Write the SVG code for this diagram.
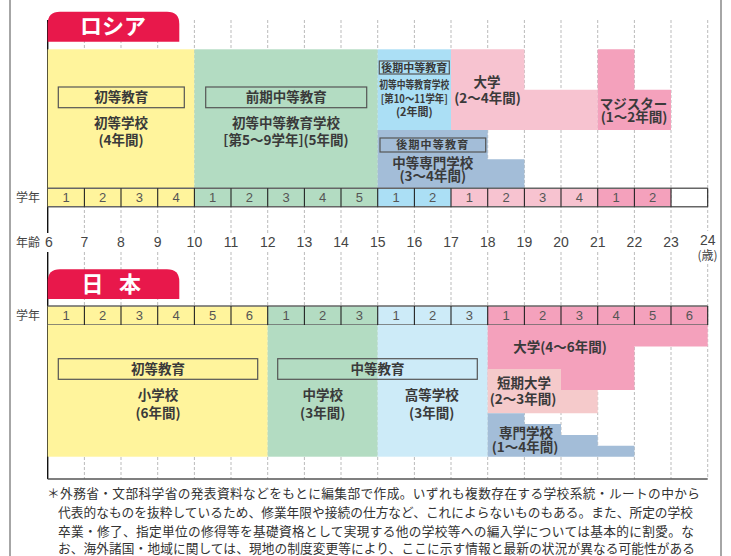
<svg xmlns="http://www.w3.org/2000/svg" width="731" height="556" viewBox="0 0 731 556">
<style>
.lab{font-family:"Noto Sans CJK JP",sans-serif;font-size:13.5px;font-weight:bold;fill:#3a3a3a;text-anchor:middle}
.sm{font-family:"Noto Sans CJK JP",sans-serif;font-size:11px;font-weight:bold;fill:#3a3a3a;text-anchor:middle}
.num{font-family:"Liberation Sans",sans-serif;font-size:13px;fill:#555;text-anchor:middle}
.age{font-family:"Liberation Sans",sans-serif;font-size:14px;fill:#444;text-anchor:middle}
.side{font-family:"Noto Sans CJK JP",sans-serif;font-size:12px;fill:#444}
.tab{fill:#e8184b}
.tabt{font-family:"Noto Sans CJK JP",sans-serif;font-size:22px;font-weight:bold;fill:#fff;text-anchor:middle}
.box{fill:none;stroke:#555;stroke-width:1.2}
.dash{stroke:#aaa;stroke-width:0.8;stroke-dasharray:3 2}
.cell{stroke:#222;stroke-width:1.1}
.rowb{stroke:#666;stroke-width:1.6}
.y{fill:#fff49c}.g{fill:#b3dcc2}.rb{fill:#abdff5}.jb{fill:#cdebf8}
.pl{fill:#f7c3d0}.pd{fill:#f4a1bc}.gb{fill:#a3bdd8}.tk{fill:#f5cacb}
.foot{font-family:"Noto Sans CJK JP",sans-serif;font-size:12.7px;fill:#333}
</style>
<rect width="731" height="556" fill="#fff"/>
<!-- frame -->
<line x1="10" y1="0" x2="10" y2="556" stroke="#888" stroke-width="1.5"/>
<line x1="721" y1="0" x2="721" y2="556" stroke="#888" stroke-width="1.5"/>

<!-- grid lines -->
<g id="grid">
<g class="dash">
<line x1="84.4" y1="20" x2="84.4" y2="233"/><line x1="84.4" y1="252" x2="84.4" y2="479"/>
<line x1="121" y1="20" x2="121" y2="233"/><line x1="121" y1="252" x2="121" y2="479"/>
<line x1="157.7" y1="20" x2="157.7" y2="233"/><line x1="157.7" y1="252" x2="157.7" y2="479"/>
<line x1="194.4" y1="20" x2="194.4" y2="233"/><line x1="194.4" y1="252" x2="194.4" y2="479"/>
<line x1="231" y1="20" x2="231" y2="233"/><line x1="231" y1="252" x2="231" y2="479"/>
<line x1="267.7" y1="20" x2="267.7" y2="233"/><line x1="267.7" y1="252" x2="267.7" y2="479"/>
<line x1="304.4" y1="20" x2="304.4" y2="233"/><line x1="304.4" y1="252" x2="304.4" y2="479"/>
<line x1="341" y1="20" x2="341" y2="233"/><line x1="341" y1="252" x2="341" y2="479"/>
<line x1="377.7" y1="20" x2="377.7" y2="233"/><line x1="377.7" y1="252" x2="377.7" y2="479"/>
<line x1="414.4" y1="20" x2="414.4" y2="233"/><line x1="414.4" y1="252" x2="414.4" y2="479"/>
<line x1="451" y1="20" x2="451" y2="233"/><line x1="451" y1="252" x2="451" y2="479"/>
<line x1="487.7" y1="20" x2="487.7" y2="233"/><line x1="487.7" y1="252" x2="487.7" y2="479"/>
<line x1="524.4" y1="20" x2="524.4" y2="233"/><line x1="524.4" y1="252" x2="524.4" y2="479"/>
<line x1="561" y1="20" x2="561" y2="233"/><line x1="561" y1="252" x2="561" y2="479"/>
<line x1="597.7" y1="20" x2="597.7" y2="233"/><line x1="597.7" y1="252" x2="597.7" y2="479"/>
<line x1="634.4" y1="20" x2="634.4" y2="233"/><line x1="634.4" y1="252" x2="634.4" y2="479"/>
<line x1="671" y1="20" x2="671" y2="233"/><line x1="671" y1="252" x2="671" y2="479"/>
<line x1="707.7" y1="20" x2="707.7" y2="231"/><line x1="707.7" y1="264" x2="707.7" y2="479"/>
</g>
<line x1="47.7" y1="20" x2="47.7" y2="233" stroke="#111" stroke-width="1.4"/>
<line x1="47.7" y1="252" x2="47.7" y2="479" stroke="#111" stroke-width="1.4"/>
<line x1="47.7" y1="479" x2="707.7" y2="479" stroke="#555" stroke-width="1.6"/>
</g>

<!-- ===== Russia ===== -->
<g id="ru-tab">
<path class="tab" d="M47.7,41.7 V24 Q47.7,11.7 60,11.7 H167 Q179.3,11.7 179.3,24 V41.7 Z"/>
<text class="tabt" x="113" y="34">ロシア</text>
</g>
<g id="ru-primary">
<rect class="y" x="47.7" y="49.3" width="146.7" height="139"/>
<rect class="box" x="58.3" y="87" width="126" height="20.7"/>
<text class="lab" x="121.3" y="102">初等教育</text>
<text class="lab" x="121" y="128">初等学校</text>
<text class="lab" x="121" y="145">(4年間)</text>
</g>
<g id="ru-lower-secondary">
<rect class="g" x="194.4" y="49.3" width="183.3" height="139"/>
<rect class="box" x="205.7" y="87" width="161" height="20.7"/>
<text class="lab" x="286.2" y="102">前期中等教育</text>
<text class="lab" x="286" y="128">初等中等教育学校</text>
<text class="lab" x="286" y="145">[第5～9学年](5年間)</text>
</g>
<g id="ru-upper-secondary">
<rect class="rb" x="377.7" y="49.3" width="73.3" height="80.7"/>
<rect class="box" x="379.3" y="61" width="70" height="13"/>
<text class="sm" x="414.3" y="71.8">後期中等教育</text>
<text class="sm" x="414.3" y="89" textLength="70" lengthAdjust="spacingAndGlyphs">初等中等教育学校</text>
<text class="sm" x="414.3" y="102.5" textLength="67" lengthAdjust="spacingAndGlyphs">[第10～11学年]</text>
<text class="sm" x="414.3" y="116" font-size="11.5">(2年間)</text>
</g>
<g id="ru-vocational">
<path class="gb" d="M377.7,130 H487.7 V159.3 H524.4 V188.3 H377.7 Z"/>
<rect class="box" x="380" y="138" width="105.7" height="14"/>
<text class="sm" x="432.8" y="149.3" font-size="12.5" letter-spacing="1.2">後期中等教育</text>
<text class="lab" x="432.8" y="168" font-size="12.8">中等専門学校</text>
<text class="lab" x="432.8" y="181" font-size="12.8">(3～4年間)</text>
</g>
<g id="ru-university">
<path class="pl" d="M451,49.3 H524.4 V89.7 H597.7 V130 H451 Z"/>
<text class="lab" x="487" y="87">大学</text>
<text class="lab" x="487.5" y="103">(2～4年間)</text>
</g>
<g id="ru-magister">
<path class="pd" d="M597.7,49.3 H634.4 V89.7 H671 V130 H597.7 Z"/>
<text class="lab" x="633.5" y="109">マジスター</text>
<text class="lab" x="634" y="122">(1～2年間)</text>
</g>
<g id="ru-grades">
<rect class="y" x="47.7" y="188.3" width="146.7" height="18.4"/>
<rect class="g" x="194.4" y="188.3" width="183.3" height="18.4"/>
<rect class="rb" x="377.7" y="188.3" width="73.3" height="18.4"/>
<rect class="pl" x="451" y="188.3" width="146.7" height="18.4"/>
<rect class="pd" x="597.7" y="188.3" width="73.3" height="18.4"/>
<line class="rowb" x1="47.7" y1="188.3" x2="707.7" y2="188.3"/>
<line class="rowb" x1="47.7" y1="206.7" x2="707.7" y2="206.7"/>
<g class="cell">
<line x1="84.4" y1="188.3" x2="84.4" y2="206.7"/><line x1="121" y1="188.3" x2="121" y2="206.7"/>
<line x1="157.7" y1="188.3" x2="157.7" y2="206.7"/><line x1="194.4" y1="188.3" x2="194.4" y2="206.7"/>
<line x1="231" y1="188.3" x2="231" y2="206.7"/><line x1="267.7" y1="188.3" x2="267.7" y2="206.7"/>
<line x1="304.4" y1="188.3" x2="304.4" y2="206.7"/><line x1="341" y1="188.3" x2="341" y2="206.7"/>
<line x1="377.7" y1="188.3" x2="377.7" y2="206.7"/><line x1="414.4" y1="188.3" x2="414.4" y2="206.7"/>
<line x1="451" y1="188.3" x2="451" y2="206.7"/><line x1="487.7" y1="188.3" x2="487.7" y2="206.7"/>
<line x1="524.4" y1="188.3" x2="524.4" y2="206.7"/><line x1="561" y1="188.3" x2="561" y2="206.7"/>
<line x1="597.7" y1="188.3" x2="597.7" y2="206.7"/><line x1="634.4" y1="188.3" x2="634.4" y2="206.7"/>
<line x1="671" y1="188.3" x2="671" y2="206.7"/><line x1="707.7" y1="188.3" x2="707.7" y2="206.7"/>
</g>
<text class="side" x="16" y="202">学年</text>
<text class="num" x="66" y="202">1</text><text class="num" x="102.7" y="202">2</text>
<text class="num" x="139.4" y="202">3</text><text class="num" x="176" y="202">4</text>
<text class="num" x="212.7" y="202">1</text><text class="num" x="249.4" y="202">2</text>
<text class="num" x="286" y="202">3</text><text class="num" x="322.7" y="202">4</text>
<text class="num" x="359.4" y="202">5</text>
<text class="num" x="396" y="202">1</text><text class="num" x="432.7" y="202">2</text>
<text class="num" x="469.4" y="202">1</text><text class="num" x="506" y="202">2</text>
<text class="num" x="542.7" y="202">3</text><text class="num" x="579.4" y="202">4</text>
<text class="num" x="616" y="202">1</text><text class="num" x="652.7" y="202">2</text>
</g>
<g id="ages">
<text class="side" x="16" y="247">年齢</text>
<text class="age" x="49" y="247">6</text><text class="age" x="84.4" y="247">7</text>
<text class="age" x="121" y="247">8</text><text class="age" x="157.7" y="247">9</text>
<text class="age" x="194.4" y="247">10</text><text class="age" x="231" y="247">11</text>
<text class="age" x="267.7" y="247">12</text><text class="age" x="304.4" y="247">13</text>
<text class="age" x="341" y="247">14</text><text class="age" x="377.7" y="247">15</text>
<text class="age" x="414.4" y="247">16</text><text class="age" x="451" y="247">17</text>
<text class="age" x="487.7" y="247">18</text><text class="age" x="524.4" y="247">19</text>
<text class="age" x="561" y="247">20</text><text class="age" x="597.7" y="247">21</text>
<text class="age" x="634.4" y="247">22</text><text class="age" x="671" y="247">23</text>
<text class="age" x="707.7" y="245">24</text>
<text class="side" x="707.5" y="260" font-size="10.5" text-anchor="middle">(歳)</text>
</g>

<!-- ===== Japan ===== -->
<g id="jp-tab">
<path class="tab" d="M47.7,299 V281.6 Q47.7,269.3 60,269.3 H167 Q179.3,269.3 179.3,281.6 V299 Z"/>
<text class="tabt" x="92.5" y="292">日</text>
<text class="tabt" x="130" y="292">本</text>
</g>
<g id="jp-grades">
<rect class="y" x="47.7" y="306" width="220" height="19"/>
<rect class="g" x="267.7" y="306" width="110" height="19"/>
<rect class="jb" x="377.7" y="306" width="110" height="19"/>
<rect class="pd" x="487.7" y="306" width="220" height="19"/>
<line class="rowb" x1="47.7" y1="306" x2="707.7" y2="306"/>
<line class="rowb" x1="47.7" y1="325" x2="707.7" y2="325"/>
<g class="cell">
<line x1="84.4" y1="306" x2="84.4" y2="325"/><line x1="121" y1="306" x2="121" y2="325"/>
<line x1="157.7" y1="306" x2="157.7" y2="325"/><line x1="194.4" y1="306" x2="194.4" y2="325"/>
<line x1="231" y1="306" x2="231" y2="325"/><line x1="267.7" y1="306" x2="267.7" y2="325"/>
<line x1="304.4" y1="306" x2="304.4" y2="325"/><line x1="341" y1="306" x2="341" y2="325"/>
<line x1="377.7" y1="306" x2="377.7" y2="325"/><line x1="414.4" y1="306" x2="414.4" y2="325"/>
<line x1="451" y1="306" x2="451" y2="325"/><line x1="487.7" y1="306" x2="487.7" y2="325"/>
<line x1="524.4" y1="306" x2="524.4" y2="325"/><line x1="561" y1="306" x2="561" y2="325"/>
<line x1="597.7" y1="306" x2="597.7" y2="325"/><line x1="634.4" y1="306" x2="634.4" y2="325"/>
<line x1="671" y1="306" x2="671" y2="325"/><line x1="707.7" y1="306" x2="707.7" y2="325"/>
</g>
<text class="side" x="16" y="320">学年</text>
<text class="num" x="66" y="320">1</text><text class="num" x="102.7" y="320">2</text>
<text class="num" x="139.4" y="320">3</text><text class="num" x="176" y="320">4</text>
<text class="num" x="212.7" y="320">5</text><text class="num" x="249.4" y="320">6</text>
<text class="num" x="286" y="320">1</text><text class="num" x="322.7" y="320">2</text>
<text class="num" x="359.4" y="320">3</text>
<text class="num" x="396" y="320">1</text><text class="num" x="432.7" y="320">2</text>
<text class="num" x="469.4" y="320">3</text>
<text class="num" x="506" y="320">1</text><text class="num" x="542.7" y="320">2</text>
<text class="num" x="579.4" y="320">3</text><text class="num" x="616" y="320">4</text>
<text class="num" x="652.7" y="320">5</text><text class="num" x="689.4" y="320">6</text>
</g>
<g id="jp-elementary">
<rect class="y" x="47.7" y="325" width="220" height="131.7"/>
<text class="lab" x="158" y="400">小学校</text>
<text class="lab" x="158" y="418">(6年間)</text>
</g>
<g id="jp-juniorhigh">
<rect class="g" x="267.7" y="325" width="110" height="131.7"/>
<text class="lab" x="322.7" y="400">中学校</text>
<text class="lab" x="322.7" y="418">(3年間)</text>
</g>
<g id="jp-highschool">
<rect class="jb" x="377.7" y="325" width="110" height="131.7"/>
<text class="lab" x="431.7" y="400">高等学校</text>
<text class="lab" x="431.7" y="418">(3年間)</text>
</g>
<g id="jp-labels">
<rect class="box" x="58.3" y="358.7" width="199.4" height="20.6"/>
<text class="lab" x="158" y="374">初等教育</text>
<rect class="box" x="277.7" y="358.7" width="199.6" height="20.6"/>
<text class="lab" x="377.5" y="374">中等教育</text>
</g>
<g id="jp-university">
<path class="pd" d="M487.7,325 H707.7 V346.5 H634.4 V390 H487.7 Z"/>
<text class="lab" x="560" y="352">大学(4～6年間)</text>
</g>
<g id="jp-junior-college">
<path class="tk" d="M487.7,369 H561 V390 H597.7 V413.3 H487.7 Z"/>
<text class="lab" x="524" y="388">短期大学</text>
<text class="lab" x="523" y="404">(2～3年間)</text>
</g>
<g id="jp-vocational">
<path class="gb" d="M487.7,413.3 H524.4 V424 H561 V435 H597.7 V445.7 H634.4 V456.7 H487.7 Z"/>
<text class="lab" x="526" y="437.5">専門学校</text>
<text class="lab" x="525" y="452">(1～4年間)</text>
</g>

<!-- footnote -->
<g id="footnote" class="foot">
<text x="47" y="497.5" textLength="653" lengthAdjust="spacing">＊外務省・文部科学省の発表資料などをもとに編集部で作成。いずれも複数存在する学校系統・ルートの中から</text>
<text x="58" y="517" textLength="635" lengthAdjust="spacing">代表的なものを抜粋しているため、修業年限や接続の仕方など、これによらないものもある。また、所定の学校</text>
<text x="58" y="535.5" textLength="636" lengthAdjust="spacing">卒業・修了、指定単位の修得等を基礎資格として実現する他の学校等への編入学については基本的に割愛。な</text>
<text x="58" y="552.5" textLength="637" lengthAdjust="spacing">お、海外諸国・地域に関しては、現地の制度変更等により、ここに示す情報と最新の状況が異なる可能性がある</text>
</g>
</svg>
